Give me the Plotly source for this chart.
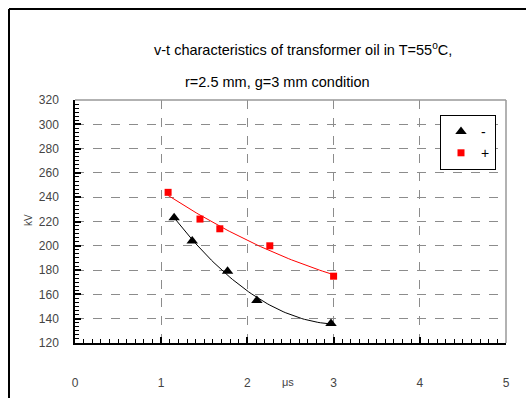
import numpy as np
import plotly.graph_objects as go

# ---- data ----
neg_t = [1.15, 1.36, 1.77, 2.11, 2.97]
neg_kv = [223, 204, 179, 155, 136]
pos_t = [1.08, 1.45, 1.68, 2.26, 3.00]
pos_kv = [244, 222, 214, 200, 175]
x_ticks = [0, 1, 2, 3, 4, 5]
y_ticks = [120, 140, 160, 180, 200, 220, 240, 260, 280, 300, 320]

W, H = 527, 398
L, R, T, B = 75, 21, 100, 55
pw, ph = W - L - R, H - T - B

def px(x):
    return (x - L) / pw

def py(y):
    return (H - B - y) / ph

def trend(xs, ys):
    c = np.polyfit(xs, ys, 2)
    xx = np.linspace(min(xs), max(xs), 60)
    return xx, np.polyval(c, xx)

fig = go.Figure()
nx, ny = trend(neg_t, neg_kv)
fx, fy = trend(pos_t, pos_kv)
fig.add_trace(go.Scatter(x=nx, y=ny, mode="lines", line=dict(color="black", width=1),
                         showlegend=False, hoverinfo="skip"))
fig.add_trace(go.Scatter(x=fx, y=fy, mode="lines", line=dict(color="#ff0000", width=1),
                         showlegend=False, hoverinfo="skip"))
fig.add_trace(go.Scatter(x=neg_t, y=neg_kv, mode="markers", name="-",
                         marker=dict(symbol="triangle-up", size=10, color="black")))
fig.add_trace(go.Scatter(x=pos_t, y=pos_kv, mode="markers", name="+",
                         marker=dict(symbol="square", size=7, color="#ff0000")))

font = "Liberation Sans, Arial, sans-serif"
grid = "#8c8c8c"

fig.update_layout(
    width=W, height=H,
    margin=dict(l=L, r=R, t=T, b=B, pad=0, autoexpand=False),
    paper_bgcolor="white", plot_bgcolor="white",
    font=dict(family=font, size=12, color="#333333"),
    showlegend=True,
    legend=dict(x=px(440), y=py(115), xanchor="left", yanchor="top",
                bgcolor="white", bordercolor="black", borderwidth=1,
                font=dict(size=14, color="black"), itemwidth=30,
                tracegroupgap=0),
    xaxis=dict(range=[0, 5], tickvals=x_ticks, ticktext=[str(v) for v in x_ticks],
               automargin=False,
               showgrid=True, gridcolor=grid, griddash="dash", gridwidth=1.3,
               showline=True, linecolor="black", linewidth=1.5,
               ticks="inside", ticklen=6, tickcolor="black", tickwidth=1.5,
               ticklabelstandoff=28, zeroline=False,
               minor=dict(dtick=0.1, ticks="inside", ticklen=4, tickcolor="black",
                          tickwidth=1, showgrid=False),
               tickfont=dict(size=12, color="#444444")),
    yaxis=dict(range=[120, 320], tickvals=y_ticks, automargin=False,
               showgrid=True, gridcolor=grid, griddash="dash", gridwidth=1.3,
               showline=True, linecolor="black", linewidth=1.5,
               ticks="inside", ticklen=6, tickcolor="black", tickwidth=1.5,
               ticklabelstandoff=12, zeroline=False,
               minor=dict(dtick=20 / 6, tick0=120, ticks="inside", ticklen=4,
                          tickcolor="black", tickwidth=1, showgrid=False),
               tickfont=dict(size=12, color="#444444")),
)

# plot frame (top/right, gray) and outer chart frame (black)
fig.add_shape(type="line", xref="paper", yref="paper", x0=0, x1=1, y0=1, y1=1,
              line=dict(color="#999999", width=1.5))
fig.add_shape(type="line", xref="paper", yref="paper", x0=1, x1=1, y0=0, y1=1,
              line=dict(color="#999999", width=1.5))
fig.add_shape(type="line", xref="paper", yref="paper", x0=px(9), x1=px(526), y0=py(9), y1=py(9),
              line=dict(color="black", width=2))
fig.add_shape(type="line", xref="paper", yref="paper", x0=px(9), x1=px(9), y0=py(9), y1=py(399),
              line=dict(color="black", width=2))

fig.add_annotation(x=px(152), y=py(49), xref="paper", yref="paper", xanchor="left",
                   yanchor="middle", showarrow=False,
                   text="v-t characteristics of transformer oil in T=55<sup>o</sup>C,",
                   font=dict(size=14.5, color="black"))
fig.add_annotation(x=px(183), y=py(82), xref="paper", yref="paper", xanchor="left",
                   yanchor="middle", showarrow=False,
                   text="r=2.5 mm, g=3 mm condition",
                   font=dict(size=14.5, color="black"))
fig.add_annotation(x=px(28), y=py(220), xref="paper", yref="paper", textangle=-90,
                   xanchor="center", yanchor="middle",
                   showarrow=False, text="kV", font=dict(size=10, color="#444444"))
fig.add_annotation(x=px(288), y=py(390), xref="paper", yref="paper",
                   showarrow=False, text="μs", font=dict(size=11, color="#444444"))

fig.write_html("out.html")
